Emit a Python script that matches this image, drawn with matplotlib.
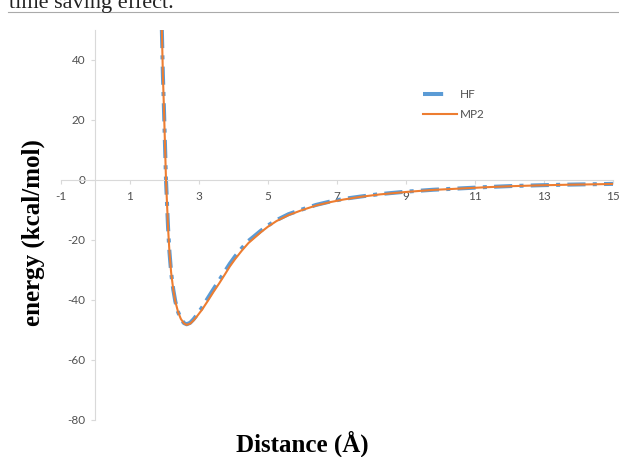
"""Potential energy curve, HF vs MP2."""

import matplotlib

matplotlib.use("Agg")
import matplotlib.pyplot as plt  # noqa: E402
from matplotlib.lines import Line2D  # noqa: E402

plt.rcParams["axes.unicode_minus"] = False

# distances (Angstrom)
distance = [1.93, 1.96, 1.99, 2.02, 2.05, 2.08, 2.11, 2.15, 2.20, 2.26,
            2.32, 2.40, 2.48, 2.57, 2.65, 2.75, 2.85, 2.95, 3.09, 3.25,
            3.42, 3.60, 3.76, 3.90, 4.05, 4.25, 4.44, 4.60, 4.80, 5.00,
            5.25, 5.60, 6.00, 6.40, 6.80, 7.20, 7.70, 8.25, 9.00, 9.80,
            10.50, 11.35, 12.10, 12.90, 13.70, 14.50, 15.00]

mp2_energy = [50.0, 35.0, 24.0, 12.0, 0.0, -8.0, -16.0, -24.0, -31.0, -36.5,
              -40.5, -44.0, -46.3, -47.8, -48.3, -47.9, -46.8, -45.4, -43.3, -40.5,
              -37.4, -34.3, -31.4, -28.8, -26.4, -23.5, -21.0, -19.4, -17.4, -15.6,
              -13.7, -11.7, -10.0, -8.5, -7.4, -6.5, -5.6, -4.8, -4.0, -3.3,
              -2.9, -2.4, -2.05, -1.78, -1.58, -1.43, -1.32]

hf_energy = [50.0, 35.0, 24.0, 12.0, 0.0, -8.0, -16.0, -24.0, -31.0, -36.5,
             -40.5, -44.0, -46.3, -47.7, -48.1, -47.6, -46.4, -44.9, -42.6, -39.6,
             -36.5, -33.3, -30.4, -27.9, -25.5, -22.7, -20.3, -18.8, -16.9, -15.2,
             -13.4, -11.4, -9.8, -8.3, -7.2, -6.3, -5.5, -4.7, -3.9, -3.25,
             -2.85, -2.35, -2.0, -1.75, -1.55, -1.40, -1.30]

x_ticks = [-1, 1, 3, 5, 7, 9, 11, 13, 15]
y_ticks = [-80, -60, -40, -20, 0, 20, 40]

HF_COLOR = "#5B9BD5"
MP2_COLOR = "#ED7D31"
AXIS_GRAY = "#d9d9d9"
TEXT_GRAY = "#595959"

fig = plt.figure(figsize=(6.19, 4.57), dpi=100)

# bit of the page above the chart
fig.text(9 / 619, 1 - 8 / 457, "time saving effect.", family="Liberation Serif",
         fontsize=16, va="baseline", color="#222222")
fig.add_artist(Line2D([8 / 619, 1.0], [1 - 12 / 457, 1 - 12 / 457],
                      color="#aaaaaa", lw=0.8))

ax = fig.add_axes([0.0981, 0.0810, 0.8922, 0.8534])

ax.plot(distance, hf_energy, color=HF_COLOR, lw=2.9,
        dashes=(4.5, 1.8, 1.0, 1.8), dash_capstyle="butt", zorder=2)
ax.plot(distance, mp2_energy, color=MP2_COLOR, lw=1.5, zorder=3)

ax.set_xlim(-1, 15)
ax.set_ylim(-80, 50)
ax.set_xticks(x_ticks)
ax.set_yticks(y_ticks)

for side in ("top", "right"):
    ax.spines[side].set_visible(False)
for side in ("left", "bottom"):
    ax.spines[side].set_position(("data", 0))
    ax.spines[side].set_color(AXIS_GRAY)
    ax.spines[side].set_linewidth(0.8)

ax.tick_params(direction="out", length=3, width=0.8, color=AXIS_GRAY,
               labelsize=8.5, labelcolor="#505050")
ax.tick_params(axis="y", pad=4)
ax.tick_params(axis="x", pad=5)
for lbl in ax.get_xticklabels() + ax.get_yticklabels():
    lbl.set_family("Lato")

handles = [
    Line2D([], [], color=HF_COLOR, lw=2.9, dashes=(5.0, 20.0), dash_capstyle="butt"),
    Line2D([], [], color=MP2_COLOR, lw=1.5),
]
leg = ax.legend(handles, ["HF", "MP2"], loc="upper left",
                bbox_to_anchor=(423 / 619, 1 - 89 / 457),
                bbox_transform=fig.transFigure, frameon=False,
                prop={"family": "Lato", "size": 8.5},
                handlelength=2.85, handletextpad=0.3, labelspacing=0.75,
                borderpad=0, borderaxespad=0)
for txt in leg.get_texts():
    txt.set_color("#505050")

fig.text(302 / 619, 1 - 444 / 457, "Distance (Å)", family="Liberation Serif",
         fontweight="bold", fontsize=18, ha="center", va="center")
fig.text(33 / 619, 1 - 232.5 / 457, "energy (kcal/mol)", family="Liberation Serif",
         fontweight="bold", fontsize=18, ha="center", va="center", rotation=90)

fig.savefig("out.png", dpi=100)
plt.close(fig)
